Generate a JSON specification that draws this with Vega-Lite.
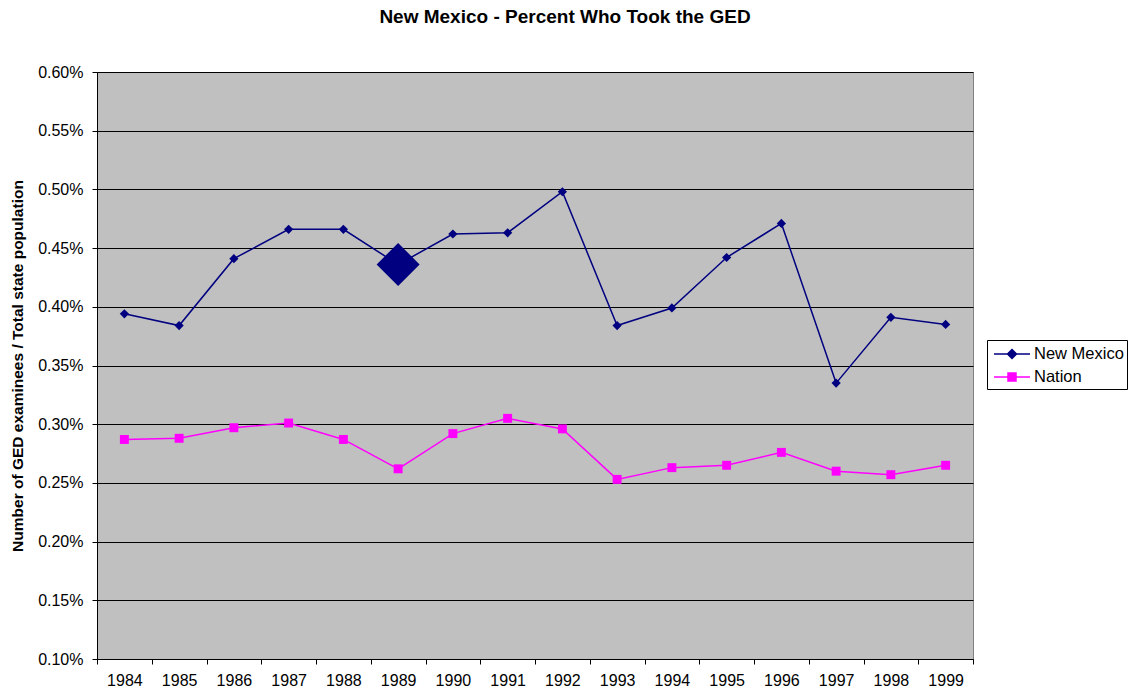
{
  "$schema": "https://vega.github.io/schema/vega-lite/v6.json",
  "autosize": "none",
  "width": 876,
  "height": 587,
  "padding": {"left": 97, "top": 72, "right": 160, "bottom": 33},
  "background": "white",
  "title": {
    "text": "New Mexico - Percent Who Took the GED",
    "font": "Liberation Sans",
    "fontSize": 19,
    "fontWeight": "bold",
    "color": "black",
    "frame": "group",
    "anchor": "middle",
    "dx": 30,
    "offset": 37
  },
  "config": {
    "view": {"stroke": "#808080", "strokeWidth": 1, "fill": "#C0C0C0"},
    "axis": {
      "labelFont": "Liberation Sans",
      "titleFont": "Liberation Sans",
      "labelColor": "black",
      "titleColor": "black",
      "domainColor": "black",
      "tickColor": "black"
    }
  },
  "data": {
    "values": [
      {"year": "1984", "series": "New Mexico", "value": 0.00394},
      {"year": "1985", "series": "New Mexico", "value": 0.00384},
      {"year": "1986", "series": "New Mexico", "value": 0.00441},
      {"year": "1987", "series": "New Mexico", "value": 0.00466},
      {"year": "1988", "series": "New Mexico", "value": 0.00466},
      {"year": "1989", "series": "New Mexico", "value": 0.00436},
      {"year": "1990", "series": "New Mexico", "value": 0.00462},
      {"year": "1991", "series": "New Mexico", "value": 0.00463},
      {"year": "1992", "series": "New Mexico", "value": 0.00498},
      {"year": "1993", "series": "New Mexico", "value": 0.00384},
      {"year": "1994", "series": "New Mexico", "value": 0.00399},
      {"year": "1995", "series": "New Mexico", "value": 0.00442},
      {"year": "1996", "series": "New Mexico", "value": 0.00471},
      {"year": "1997", "series": "New Mexico", "value": 0.00335},
      {"year": "1998", "series": "New Mexico", "value": 0.00391},
      {"year": "1999", "series": "New Mexico", "value": 0.00385},
      {"year": "1984", "series": "Nation", "value": 0.00287},
      {"year": "1985", "series": "Nation", "value": 0.00288},
      {"year": "1986", "series": "Nation", "value": 0.00297},
      {"year": "1987", "series": "Nation", "value": 0.00301},
      {"year": "1988", "series": "Nation", "value": 0.00287},
      {"year": "1989", "series": "Nation", "value": 0.00262},
      {"year": "1990", "series": "Nation", "value": 0.00292},
      {"year": "1991", "series": "Nation", "value": 0.00305},
      {"year": "1992", "series": "Nation", "value": 0.00296},
      {"year": "1993", "series": "Nation", "value": 0.00253},
      {"year": "1994", "series": "Nation", "value": 0.00263},
      {"year": "1995", "series": "Nation", "value": 0.00265},
      {"year": "1996", "series": "Nation", "value": 0.00276},
      {"year": "1997", "series": "Nation", "value": 0.00260},
      {"year": "1998", "series": "Nation", "value": 0.00257},
      {"year": "1999", "series": "Nation", "value": 0.00265}
    ]
  },
  "encoding": {
    "x": {
      "field": "year",
      "type": "ordinal",
      "scale": {"paddingInner": 0, "paddingOuter": 0},
      "axis": {
        "title": null,
        "labelAngle": 0,
        "labelFontSize": 16,
        "labelPadding": 8,
        "tickSize": 5,
        "tickBand": "extent",
        "grid": false,
        "domainWidth": 1
      }
    },
    "y": {
      "field": "value",
      "type": "quantitative",
      "scale": {"domain": [0.001, 0.006], "nice": false, "zero": false},
      "axis": {
        "title": "Number of GED examinees / Total state population",
        "titleFontSize": 15.5,
        "titleFontWeight": "bold",
        "titlePadding": 12,
        "format": ".2%",
        "values": [0.001, 0.0015, 0.002, 0.0025, 0.003, 0.0035, 0.004, 0.0045, 0.005, 0.0055, 0.006],
        "labelFontSize": 16,
        "labelPadding": 9,
        "tickSize": 5,
        "grid": true,
        "gridColor": "black",
        "gridWidth": 1,
        "gridOpacity": 1
      }
    },
    "color": {
      "field": "series",
      "type": "nominal",
      "scale": {"domain": ["New Mexico", "Nation"], "range": ["#000080", "#FF00FF"]},
      "legend": {
        "title": null,
        "orient": "none",
        "legendX": 890,
        "legendY": 268,
        "fillColor": "white",
        "strokeColor": "black",
        "padding": 3,
        "labelFont": "Liberation Sans",
        "labelFontSize": 16.5,
        "labelColor": "black",
        "symbolSize": 400,
        "symbolOffset": 11,
        "rowPadding": 3,
        "labelOffset": 11,
        "encode": {
          "symbols": {
            "update": {
              "shape": {"signal": "datum.label === 'Nation' ? 'M-1.8,0H1.8M-0.4,-0.4H0.4V0.4H-0.4Z' : 'M-1.8,0H1.8M0,-0.45L0.45,0L0,0.45L-0.45,0Z'"},
              "stroke": {"signal": "datum.label === 'Nation' ? '#FF00FF' : '#000080'"},
              "fill": {"signal": "datum.label === 'Nation' ? '#FF00FF' : '#000080'"},
              "strokeWidth": {"value": 1.5},
              "opacity": {"value": 1},
              "fillOpacity": {"value": 1}
            }
          }
        }
      }
    }
  },
  "layer": [
    {
      "mark": {"type": "line", "strokeWidth": 1.5}
    },
    {
      "transform": [{"filter": "datum.series == 'New Mexico'"}],
      "mark": {"type": "point", "filled": true, "opacity": 1, "shape": "diamond"},
      "encoding": {
        "size": {
          "condition": {"test": "datum.year == '1989'", "value": 1850},
          "value": 85
        }
      }
    },
    {
      "transform": [{"filter": "datum.series == 'Nation'"}],
      "mark": {"type": "point", "filled": true, "opacity": 1, "shape": "square", "size": 80}
    }
  ]
}
